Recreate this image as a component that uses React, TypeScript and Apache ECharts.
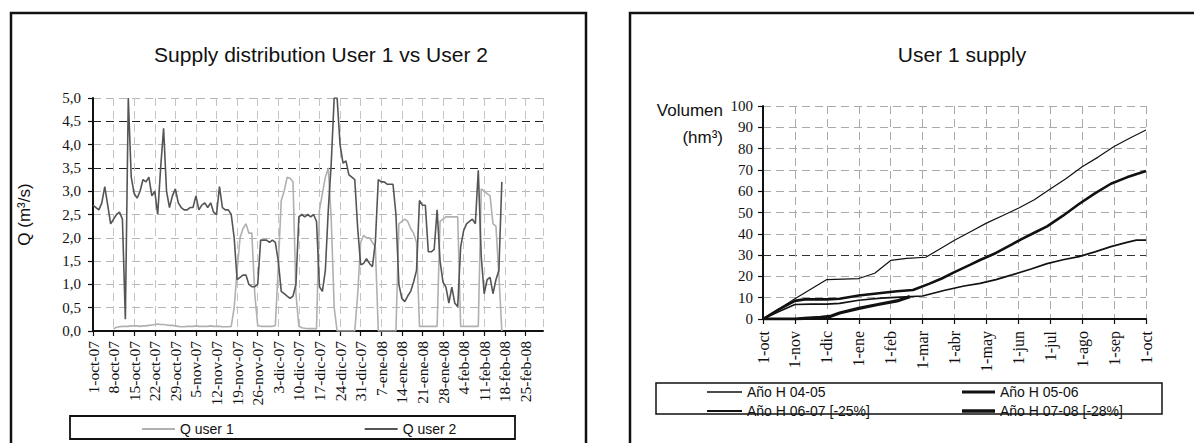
import React, { useEffect, useRef } from 'react';
import * as echarts from 'echarts';

// ---------- Left chart: daily flows (m3/s), day 0 = 1-oct-07 ----------
const weekLabels = [
  '1-oct-07', '8-oct-07', '15-oct-07', '22-oct-07', '29-oct-07', '5-nov-07',
  '12-nov-07', '19-nov-07', '26-nov-07', '3-dic-07', '10-dic-07', '17-dic-07',
  '24-dic-07', '31-dic-07', '7-ene-08', '14-ene-08', '21-ene-08', '28-ene-08',
  '4-feb-08', '11-feb-08', '18-feb-08', '25-feb-08',
];

const qUser1: (number | null)[] = [
  null, null, null, null, null, null, null, 0.05, 0.08, 0.09,
  0.1, 0.1, 0.1, 0.11, 0.11, 0.11, 0.1, 0.11, 0.11, 0.12,
  0.13, 0.14, 0.15, 0.14, 0.14, 0.13, 0.12, 0.12, 0.11, 0.1,
  0.09, 0.09, 0.1, 0.1, 0.1, 0.11, 0.1, 0.1, 0.1, 0.1,
  0.11, 0.1, 0.1, 0.1, 0.09, 0.09, 0.09, 0.1, 0.5, 1.3,
  2.0, 2.2, 2.3, 2.1, 2.1, 0.8, 0.12, 0.1, 0.1, 0.1,
  0.1, 0.1, 0.12, 1.4, 2.8, 3.0, 3.3, 3.28, 3.2, 0.8,
  0.1, 0.07, 0.06, 0.05, 0.05, 0.05, 0.05, 2.6, 2.95, 3.3,
  3.5, 2.4, 0.5, 0, 0, 0, 0, 0, 0, 0,
  0.8, 1.9, 2.05, 2.0, 2.0, 1.9, 1.8, 0, 0, 0,
  0, 0, 0, 0, 2.3, 2.35, 2.4, 2.35, 2.2, 2.1,
  1.9, 0.1, 0.1, 0.1, 0.1, 0.1, 0.1, 0.1, 2.35, 2.4,
  2.45, 2.45, 2.45, 2.45, 2.45, 0.1, 0.1, 0.1, 0.1, 0.1,
  0.1, 0.1, 3.05, 3.0, 2.95, 2.9, 2.3, 2.25, 1.2, 0,
];

const qUser2: number[] = [
  2.7, 2.65, 2.6, 2.75, 3.1, 2.7, 2.3, 2.4, 2.5, 2.55,
  2.4, 0.25, 5.0, 3.3, 2.95, 2.85, 3.0, 3.25, 3.2, 3.3,
  2.9, 3.0, 2.5, 3.5, 4.35, 3.0, 2.65, 2.9, 3.05, 2.75,
  2.65, 2.6, 2.6, 2.65, 2.65, 2.9, 2.6, 2.7, 2.75, 2.65,
  2.75, 2.55, 2.5, 3.1, 2.65, 2.6, 2.6, 2.5, 2.0, 1.1,
  1.15, 1.2, 1.2, 1.0, 0.95, 0.95, 1.0, 1.95, 1.95, 1.95,
  1.9, 1.95, 1.9, 1.5, 0.85, 0.8, 0.75, 0.7, 0.75, 1.0,
  2.45, 2.5, 2.45, 2.5, 2.45, 2.5, 2.35, 0.95, 0.85, 1.3,
  2.6, 3.6, 5.0, 5.0, 4.0, 3.6, 3.65, 3.35, 3.3, 3.25,
  2.2, 1.42, 1.45, 1.55, 1.45, 1.38, 1.9, 3.25, 3.2, 3.2,
  3.15, 3.15, 3.15, 2.5, 1.0, 0.7, 0.63, 0.75, 0.85, 1.05,
  1.3, 2.8, 2.7, 2.7, 1.7, 1.7, 1.75, 2.6, 1.5, 1.05,
  0.94, 0.6, 0.94, 0.6, 0.52, 1.8, 2.15, 2.3, 2.35, 2.4,
  2.3, 3.45, 1.6, 0.8, 1.1, 1.15, 0.8, 1.1, 1.3, 3.2,
];

// ---------- Right chart: cumulative volume (hm3), x = months since 1-oct ----------
const monthLabels = [
  '1-oct', '1-nov', '1-dic', '1-ene', '1-feb', '1-mar', '1-abr',
  '1-may', '1-jun', '1-jul', '1-ago', '1-sep', '1-oct',
];

const year0405: [number, number][] = [
  [0, 0], [1, 9.5], [2, 18.5], [3, 19], [3.5, 21.5], [4, 27.5], [4.5, 28.5],
  [5.1, 29], [5.5, 32.5], [6, 37], [6.5, 41], [7, 45], [7.5, 48.5], [8, 52],
  [8.5, 56], [9, 61], [9.5, 66], [10, 71.5], [10.5, 76], [11, 81], [11.5, 85], [12, 88.7],
];
const year0506: [number, number][] = [
  [0, 0], [0.5, 4.5], [1, 8.5], [1.3, 9.2], [2, 9.2], [2.4, 9.5], [3, 11], [3.7, 12.2],
  [4.2, 13], [4.7, 13.6], [5.2, 16.5], [5.6, 19], [6, 22], [6.5, 25.5], [6.8, 27.7],
  [7.3, 31], [7.8, 35], [8.1, 37.5], [8.5, 40.5], [8.9, 43.5], [9.4, 48.5], [9.9, 54],
  [10.4, 59], [10.9, 63.5], [11.4, 66.5], [12, 69.5],
];
const year0607: [number, number][] = [
  [0, 0], [0.5, 3.5], [1, 6.8], [1.5, 7], [2, 7], [2.4, 7.3], [3, 8.8], [3.7, 9.8],
  [4.3, 10.3], [5, 10.8], [5.7, 13.5], [6.3, 15.5], [6.8, 16.7], [7.3, 18.5], [7.8, 20.7],
  [8.4, 23.5], [8.9, 26], [9.4, 27.8], [9.9, 29.3], [10.4, 31.5], [10.9, 34], [11.4, 36],
  [11.7, 37], [12, 37],
];
const year0708: [number, number][] = [
  [0, 0], [1, 0], [1.3, 0.3], [1.8, 0.8], [2.1, 1.2], [2.4, 2.8], [3, 5], [3.6, 6.8],
  [4.2, 8.5], [4.6, 10.5],
];

const SERIF = "'Liberation Serif', 'Times New Roman', serif";
const SANS = "'Liberation Sans', Arial, sans-serif";
const INK = '#111';

const bar = (w: number, t: number) => `path://M0 0H${w}V${t}H0Z`;

export default function App() {
  const ref = useRef<HTMLDivElement>(null);

  useEffect(() => {
    if (!ref.current) return;
    const chart = echarts.init(ref.current, null, { renderer: 'svg' });

    const leftSplit = ['#b5b5b5', '#b5b5b5', '#b5b5b5', '#b5b5b5', '#b5b5b5', '#b5b5b5', '#b5b5b5', '#222', '#b5b5b5', '#222', '#b5b5b5'];
    const rightSplit = ['#aaa', '#aaa', '#aaa', '#333', '#aaa', '#aaa', '#aaa', '#aaa', '#aaa', '#aaa', '#aaa'];

    const axisLine = { show: true, lineStyle: { color: INK, width: 2 } };
    const axisTick = { show: true, length: 5, lineStyle: { color: INK, width: 1.2 } };
    const labelStyle = { fontFamily: SERIF, fontSize: 15, color: INK };
    const legendText = { fontFamily: SANS, fontSize: 14, color: INK };

    chart.setOption({
      animation: false,
      backgroundColor: '#ffffff',
      title: [
        {
          text: 'Supply distribution User 1 vs User 2',
          left: 316, top: 39, textAlign: 'center',
          textStyle: { fontFamily: SANS, fontSize: 21, fontWeight: 'normal', color: INK },
        },
        {
          text: 'User 1 supply',
          left: 957, top: 39, textAlign: 'center',
          textStyle: { fontFamily: SANS, fontSize: 21, fontWeight: 'normal', color: INK },
        },
      ],
      grid: [
        { left: 93, top: 98, width: 450, height: 233 },
        { left: 763, top: 106, width: 383, height: 213 },
      ],
      xAxis: [
        {
          type: 'value', gridIndex: 0, min: 0, max: 153, interval: 7,
          axisLine, axisTick,
          axisLabel: {
            ...labelStyle, fontSize: 15.5, rotate: 90, margin: 10, showMaxLabel: false,
            formatter: (v: number) => (v % 7 === 0 && weekLabels[v / 7]) ? weekLabels[v / 7] : '',
          },
          splitLine: { show: true, lineStyle: { type: [8, 5], color: '#c4c4c4', width: 1 } },
        },
        {
          type: 'value', gridIndex: 1, min: 0, max: 12, interval: 1,
          axisLine, axisTick,
          axisLabel: {
            ...labelStyle, fontSize: 16, rotate: 90, margin: 12,
            formatter: (v: number) => monthLabels[v] ?? '',
          },
          splitLine: { show: true, lineStyle: { type: [8, 5], color: '#aaa', width: 1 } },
        },
      ],
      yAxis: [
        {
          type: 'value', gridIndex: 0, min: 0, max: 5, interval: 0.5,
          name: 'Q (m³/s)', nameLocation: 'middle', nameGap: 60, nameRotate: 90,
          nameTextStyle: { fontFamily: SANS, fontSize: 17, color: INK },
          axisLine, axisTick,
          axisLabel: { ...labelStyle, margin: 12, formatter: (v: number) => v.toFixed(1).replace('.', ',') },
          splitLine: { show: true, lineStyle: { type: [8, 5], color: leftSplit, width: 1.2 } },
        },
        {
          type: 'value', gridIndex: 1, min: 0, max: 100, interval: 10,
          axisLine, axisTick,
          axisLabel: { ...labelStyle, margin: 10 },
          splitLine: { show: true, lineStyle: { type: [8, 5], color: rightSplit, width: 1.2 } },
        },
      ],
      legend: [
        {
          data: [
            { name: 'Q user 1', icon: bar(33, 1.8) },
            { name: 'Q user 2', icon: bar(33, 1.8) },
          ],
          selectedMode: false,
          left: 142, top: 422, padding: 0, itemWidth: 33, itemHeight: 14, itemGap: 131,
          textStyle: legendText,
        },
        {
          data: [
            { name: 'Año H 04-05', icon: bar(35, 1.3) },
            { name: 'Año H 06-07 [-25%]', icon: bar(35, 2.2) },
          ],
          selectedMode: false, orient: 'vertical',
          left: 707, top: 385, padding: 0, itemWidth: 35, itemHeight: 14, itemGap: 5,
          textStyle: legendText,
        },
        {
          data: [
            { name: 'Año H 05-06', icon: bar(33, 2.8) },
            { name: 'Año H 07-08 [-28%]', icon: bar(33, 3.6) },
          ],
          selectedMode: false, orient: 'vertical',
          left: 962, top: 385, padding: 0, itemWidth: 33, itemHeight: 14, itemGap: 5,
          textStyle: legendText,
        },
      ],
      series: [
        {
          name: 'Q user 1', type: 'line', xAxisIndex: 0, yAxisIndex: 0, symbol: 'none',
          data: qUser1.map((v, i) => [i, v]),
          lineStyle: { color: '#b0b0b0', width: 1.6 }, itemStyle: { color: '#b0b0b0' },
        },
        {
          name: 'Q user 2', type: 'line', xAxisIndex: 0, yAxisIndex: 0, symbol: 'none',
          data: qUser2.map((v, i) => [i, v]),
          lineStyle: { color: '#555', width: 1.6 }, itemStyle: { color: '#555' },
        },
        {
          name: 'Año H 04-05', type: 'line', xAxisIndex: 1, yAxisIndex: 1, symbol: 'none',
          data: year0405, lineStyle: { color: INK, width: 1.2 }, itemStyle: { color: INK },
        },
        {
          name: 'Año H 05-06', type: 'line', xAxisIndex: 1, yAxisIndex: 1, symbol: 'none',
          data: year0506, lineStyle: { color: INK, width: 2.6 }, itemStyle: { color: INK },
        },
        {
          name: 'Año H 06-07 [-25%]', type: 'line', xAxisIndex: 1, yAxisIndex: 1, symbol: 'none',
          data: year0607, lineStyle: { color: INK, width: 1.7 }, itemStyle: { color: INK },
        },
        {
          name: 'Año H 07-08 [-28%]', type: 'line', xAxisIndex: 1, yAxisIndex: 1, symbol: 'none',
          data: year0708, lineStyle: { color: INK, width: 3.2 }, itemStyle: { color: INK },
        },
      ],
      graphic: [
        { type: 'rect', silent: true, shape: { x: 11, y: 13, width: 575, height: 500 }, style: { fill: 'transparent', stroke: INK, lineWidth: 2.5 } },
        { type: 'rect', silent: true, shape: { x: 630, y: 13, width: 600, height: 500 }, style: { fill: 'transparent', stroke: INK, lineWidth: 2.5 } },
        { type: 'rect', silent: true, shape: { x: 70, y: 416, width: 445, height: 23 }, style: { fill: 'transparent', stroke: INK, lineWidth: 1.8 } },
        { type: 'rect', silent: true, shape: { x: 656, y: 383, width: 506, height: 31 }, style: { fill: 'transparent', stroke: INK, lineWidth: 1.5 }, z: 100 },
        { type: 'text', silent: true, x: 723, y: 110, style: { text: 'Volumen', fill: INK, fontFamily: SANS, fontSize: 17, align: 'right', verticalAlign: 'middle' } },
        { type: 'text', silent: true, x: 723, y: 137, style: { text: '(hm³)', fill: INK, fontFamily: SANS, fontSize: 17, align: 'right', verticalAlign: 'middle' } },
      ],
    });

    return () => chart.dispose();
  }, []);

  return (
    <div
      ref={ref}
      style={{ position: 'absolute', left: 0, top: 0, width: 1194, height: 443, background: '#fff' }}
    />
  );
}
